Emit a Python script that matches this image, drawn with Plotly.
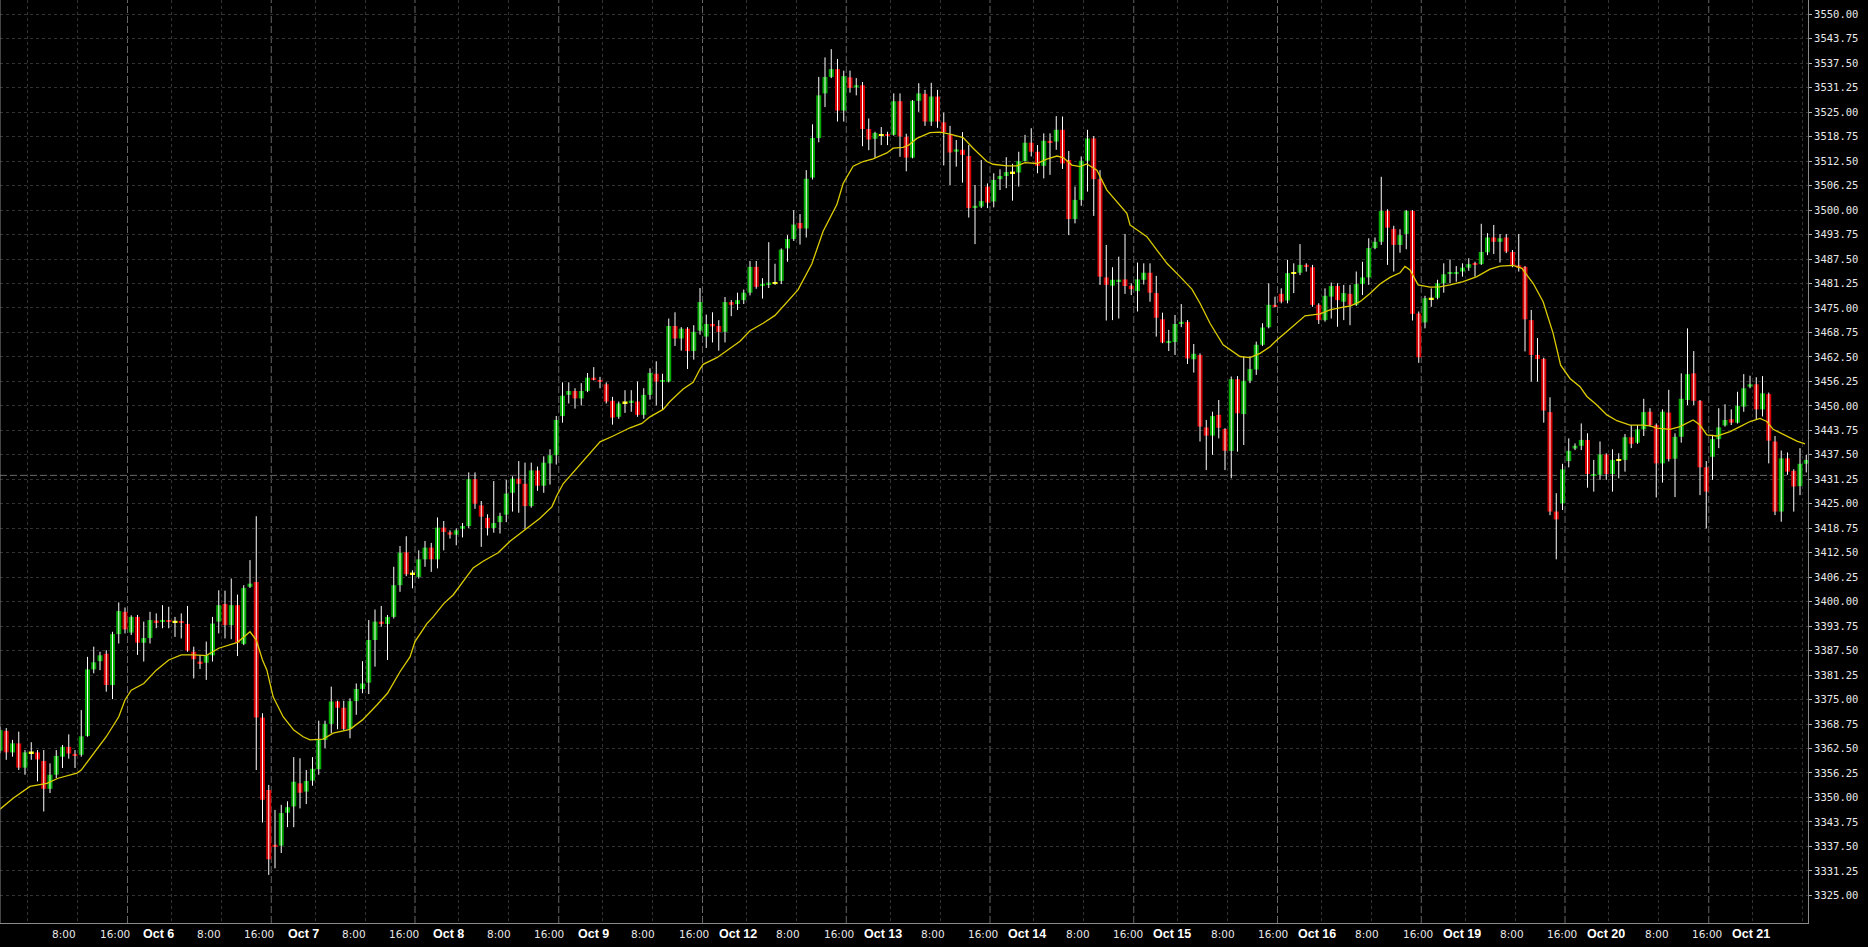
import plotly.graph_objects as go

# ---------------- data (hourly candles) ----------------
opens = [
3361.9, 3367.0, 3361.5, 3363.8, 3357.6, 3361.5, 3361.5, 3359.3, 3352.2, 3355.8,
3360.4, 3362.9, 3361.1, 3360.9, 3365.7, 3382.7, 3384.8, 3386.7, 3378.7, 3391.7,
3397.4, 3392.1, 3396.1, 3389.5, 3390.7, 3395.1, 3394.9, 3395.2, 3394.9, 3395.0,
3394.3, 3387.2, 3384.7, 3384.4, 3386.3, 3394.9, 3399.4, 3394.0, 3399.1, 3389.2,
3403.8, 3405.0, 3370.4, 3351.9, 3337.9, 3337.7, 3346.1, 3347.7, 3353.6, 3351.5,
3354.3, 3357.2, 3364.7, 3368.8, 3374.5, 3372.9, 3367.5, 3374.6, 3377.7, 3379.3,
3390.2, 3394.9, 3394.3, 3396.1, 3404.2, 3412.6, 3407.2, 3406.3, 3410.8, 3413.8,
3410.8, 3418.9, 3417.7, 3417.1, 3418.6, 3419.3, 3431.3, 3424.6, 3421.4, 3418.8,
3420.3, 3422.2, 3427.8, 3431.4, 3430.1, 3424.4, 3433.5, 3429.6, 3435.3, 3437.4,
3447.4, 3452.8, 3453.8, 3451.9, 3453.8, 3457.2, 3456.6, 3455.5, 3451.3, 3447.2,
3450.9, 3450.9, 3451.1, 3447.7, 3452.8, 3458.2, 3456.2, 3456.2, 3470.4, 3467.2,
3469.7, 3464.0, 3469.2, 3467.7, 3470.9, 3470.4, 3468.9, 3476.5, 3476.0, 3477.0,
3478.9, 3485.5, 3480.8, 3481.1, 3481.4, 3481.9, 3490.2, 3492.6, 3496.7, 3495.3,
3508.3, 3518.4, 3529.8, 3534.0, 3536.0, 3525.4, 3533.9, 3531.3, 3531.9, 3520.7,
3518.2, 3519.2, 3519.4, 3519.2, 3527.8, 3518.7, 3513.4, 3527.9, 3529.7, 3522.6,
3529.0, 3522.4, 3519.2, 3514.9, 3515.4, 3513.8, 3500.6, 3500.9, 3506.0, 3502.2,
3507.9, 3508.7, 3509.6, 3509.6, 3512.5, 3517.2, 3514.9, 3511.3, 3517.7, 3517.5,
3520.5, 3512.8, 3497.7, 3502.6, 3512.6, 3518.3, 3507.9, 3482.8, 3480.7, 3481.8,
3482.3, 3480.7, 3479.3, 3482.2, 3484.0, 3478.8, 3472.1, 3466.2, 3466.3, 3471.1,
3471.4, 3461.9, 3463.0, 3444.5, 3442.4, 3447.7, 3444.1, 3438.5, 3456.8, 3447.9,
3456.4, 3459.3, 3465.6, 3470.1, 3475.8, 3478.6, 3476.9, 3483.9, 3484.0, 3486.0,
3485.4, 3475.8, 3471.9, 3477.9, 3480.6, 3476.6, 3478.6, 3475.8, 3481.1, 3482.8,
3490.3, 3491.9, 3499.8, 3495.2, 3491.1, 3493.9, 3499.8, 3473.6, 3471.3, 3477.4,
3477.6, 3481.3, 3483.7, 3483.7, 3484.3, 3485.3, 3486.4, 3486.2, 3489.2, 3493.0,
3491.9, 3493.0, 3489.3, 3485.9, 3485.5, 3471.9, 3463.0, 3462.0, 3448.4, 3423.0,
3425.1, 3435.9, 3439.1, 3439.8, 3441.3, 3432.1, 3432.4, 3437.6, 3432.6, 3436.2,
3436.2, 3442.0, 3440.6, 3444.0, 3448.5, 3445.1, 3435.3, 3448.3, 3436.5, 3442.1,
3451.5, 3458.3, 3451.3, 3434.3, 3437.0, 3441.5, 3445.0, 3446.6, 3445.7, 3449.8,
3454.9, 3455.5, 3449.1, 3453.0, 3440.9, 3423.0, 3436.6, 3433.4, 3429.5, 3435.2,
]

highs = [
3368.1, 3367.7, 3364.7, 3366.8, 3362.1, 3364.1, 3362.1, 3362.1, 3358.7, 3362.1,
3363.4, 3366.1, 3362.1, 3372.3, 3385.9, 3388.5, 3387.2, 3387.6, 3392.3, 3399.8,
3398.5, 3396.5, 3396.6, 3394.9, 3397.4, 3397.0, 3399.1, 3398.7, 3396.1, 3397.0,
3398.9, 3388.5, 3386.4, 3389.8, 3396.1, 3402.9, 3402.8, 3405.9, 3401.8, 3404.2,
3410.6, 3421.8, 3371.5, 3353.2, 3346.8, 3348.1, 3349.0, 3360.3, 3360.0, 3357.0,
3360.3, 3369.6, 3369.6, 3378.3, 3374.7, 3374.7, 3375.3, 3379.1, 3384.8, 3395.3,
3398.0, 3398.9, 3396.6, 3408.9, 3414.2, 3416.7, 3408.0, 3413.1, 3415.5, 3415.0,
3421.5, 3420.6, 3418.2, 3418.7, 3420.1, 3433.0, 3433.0, 3425.7, 3422.3, 3430.8,
3422.7, 3431.1, 3432.0, 3435.9, 3435.5, 3435.5, 3434.5, 3437.1, 3438.9, 3447.4,
3456.0, 3456.0, 3454.5, 3455.8, 3458.4, 3459.9, 3457.4, 3456.0, 3452.3, 3451.1,
3454.0, 3454.0, 3456.2, 3454.5, 3459.6, 3461.4, 3458.2, 3472.3, 3473.9, 3470.1,
3470.1, 3470.6, 3480.1, 3473.3, 3473.9, 3471.9, 3477.8, 3477.0, 3478.9, 3479.7,
3487.0, 3487.0, 3482.6, 3491.8, 3486.3, 3490.2, 3493.6, 3500.0, 3499.0, 3510.2,
3521.9, 3534.0, 3539.0, 3541.1, 3538.6, 3535.6, 3535.6, 3533.7, 3532.7, 3523.4,
3520.0, 3521.2, 3520.0, 3529.8, 3529.8, 3519.5, 3528.1, 3532.4, 3530.7, 3532.5,
3530.7, 3524.9, 3521.5, 3517.9, 3519.9, 3516.6, 3506.4, 3512.8, 3506.8, 3509.4,
3510.4, 3513.5, 3511.8, 3514.9, 3519.2, 3520.9, 3516.6, 3519.6, 3519.6, 3524.0,
3523.9, 3515.1, 3506.0, 3513.7, 3520.5, 3518.9, 3510.2, 3491.1, 3485.4, 3488.1,
3493.9, 3481.3, 3486.6, 3486.4, 3486.4, 3483.2, 3473.8, 3469.4, 3473.2, 3476.0,
3471.9, 3465.8, 3463.4, 3446.4, 3448.5, 3451.5, 3444.3, 3457.5, 3457.6, 3462.6,
3462.6, 3466.4, 3471.1, 3481.3, 3477.9, 3480.0, 3487.3, 3486.4, 3491.3, 3486.4,
3486.0, 3476.2, 3480.0, 3481.5, 3481.3, 3480.9, 3480.9, 3484.3, 3486.8, 3492.8,
3493.0, 3508.5, 3500.2, 3496.0, 3495.1, 3500.0, 3500.0, 3474.1, 3478.1, 3480.0,
3482.2, 3486.4, 3487.4, 3485.7, 3486.4, 3487.7, 3486.8, 3496.5, 3494.1, 3496.2,
3493.9, 3493.9, 3489.8, 3493.9, 3485.7, 3474.5, 3467.3, 3462.3, 3452.2, 3427.7,
3435.2, 3441.7, 3440.4, 3445.5, 3443.0, 3436.2, 3440.9, 3437.9, 3438.9, 3437.9,
3442.8, 3445.1, 3445.1, 3451.8, 3449.4, 3445.5, 3449.1, 3454.1, 3443.0, 3458.3,
3469.8, 3464.0, 3451.5, 3435.9, 3442.6, 3449.4, 3450.4, 3449.1, 3453.6, 3458.1,
3457.7, 3457.3, 3457.6, 3453.4, 3442.3, 3438.6, 3438.1, 3433.8, 3439.2, 3437.5,
]

lows = [
3361.3, 3359.6, 3360.4, 3357.0, 3355.8, 3359.6, 3354.1, 3346.4, 3351.1, 3354.9,
3357.5, 3359.9, 3357.5, 3360.4, 3365.5, 3381.7, 3382.5, 3377.0, 3375.1, 3389.3,
3391.9, 3391.5, 3386.4, 3384.7, 3389.3, 3393.2, 3393.2, 3393.2, 3391.0, 3390.6,
3387.2, 3380.4, 3382.8, 3380.0, 3384.7, 3391.9, 3390.6, 3390.4, 3386.1, 3388.9,
3403.5, 3357.0, 3343.6, 3330.2, 3331.9, 3335.8, 3342.4, 3342.4, 3347.2, 3348.3,
3353.0, 3355.8, 3362.6, 3366.4, 3367.4, 3367.2, 3365.1, 3371.1, 3376.6, 3376.4,
3383.4, 3393.6, 3385.1, 3395.7, 3402.5, 3406.5, 3403.4, 3405.9, 3408.9, 3407.6,
3408.5, 3413.1, 3416.1, 3414.4, 3416.4, 3418.8, 3423.7, 3414.0, 3416.9, 3417.6,
3417.4, 3420.3, 3423.0, 3422.7, 3418.5, 3424.0, 3428.3, 3427.8, 3429.9, 3435.0,
3445.7, 3450.6, 3449.3, 3450.1, 3453.5, 3456.5, 3454.5, 3450.6, 3445.2, 3446.7,
3448.2, 3448.5, 3447.2, 3446.7, 3451.6, 3450.1, 3449.1, 3456.0, 3465.3, 3464.1,
3459.4, 3461.8, 3468.2, 3464.8, 3466.2, 3464.1, 3466.2, 3472.9, 3474.5, 3476.0,
3478.2, 3479.9, 3477.4, 3480.1, 3480.9, 3481.1, 3486.8, 3492.1, 3491.2, 3493.0,
3507.8, 3517.3, 3526.3, 3533.7, 3522.6, 3522.6, 3530.0, 3529.3, 3516.3, 3515.3,
3513.3, 3516.6, 3516.6, 3519.0, 3513.6, 3509.9, 3513.2, 3525.1, 3521.5, 3521.5,
3521.0, 3511.4, 3506.4, 3511.1, 3507.0, 3498.1, 3491.3, 3500.5, 3500.5, 3500.7,
3505.1, 3505.6, 3502.4, 3506.0, 3512.4, 3513.7, 3509.4, 3508.1, 3509.0, 3515.4,
3510.5, 3493.6, 3496.6, 3501.1, 3504.7, 3498.5, 3480.9, 3471.8, 3471.9, 3472.3,
3478.6, 3478.3, 3474.1, 3481.0, 3476.6, 3467.7, 3466.0, 3464.0, 3463.0, 3470.1,
3460.7, 3458.5, 3440.9, 3433.6, 3437.5, 3441.7, 3433.6, 3431.5, 3438.3, 3440.0,
3455.8, 3457.9, 3465.3, 3469.8, 3475.2, 3476.2, 3476.2, 3478.8, 3483.4, 3484.3,
3475.3, 3470.9, 3471.5, 3472.3, 3470.2, 3471.9, 3470.6, 3475.5, 3478.3, 3480.9,
3490.0, 3491.1, 3486.0, 3484.3, 3489.1, 3490.0, 3471.8, 3461.0, 3469.8, 3475.3,
3477.2, 3478.9, 3481.3, 3481.7, 3483.0, 3484.5, 3483.0, 3486.0, 3488.5, 3488.8,
3486.6, 3489.0, 3485.4, 3484.3, 3463.9, 3456.2, 3456.2, 3445.7, 3422.1, 3410.8,
3423.4, 3434.3, 3438.7, 3438.7, 3429.1, 3428.1, 3431.1, 3431.1, 3428.1, 3431.5,
3433.2, 3439.2, 3440.3, 3442.3, 3444.7, 3426.6, 3430.4, 3435.8, 3426.7, 3440.6,
3450.2, 3450.2, 3427.2, 3418.7, 3431.1, 3439.2, 3444.7, 3445.1, 3445.5, 3448.5,
3454.5, 3446.4, 3447.3, 3435.3, 3422.1, 3420.4, 3432.4, 3423.0, 3427.2, 3433.0,
]

closes = [
3367.2, 3361.5, 3363.8, 3357.6, 3361.5, 3361.5, 3359.7, 3352.2, 3355.8, 3360.6,
3362.9, 3361.2, 3360.7, 3365.6, 3382.7, 3384.5, 3386.3, 3378.7, 3391.7, 3397.6,
3392.9, 3396.1, 3389.5, 3390.7, 3395.3, 3394.8, 3395.3, 3394.9, 3394.9, 3394.6,
3387.5, 3385.3, 3384.2, 3386.3, 3394.4, 3399.1, 3394.0, 3399.1, 3389.5, 3403.5,
3404.6, 3370.4, 3349.4, 3334.2, 3337.5, 3346.0, 3347.5, 3354.0, 3351.2, 3354.2,
3357.3, 3364.7, 3368.8, 3374.5, 3372.9, 3367.5, 3374.6, 3377.7, 3379.1, 3390.2,
3394.9, 3394.4, 3396.1, 3404.2, 3412.5, 3407.0, 3407.2, 3410.8, 3413.8, 3410.8,
3418.9, 3417.8, 3417.1, 3418.2, 3419.3, 3431.3, 3425.0, 3421.7, 3418.8, 3420.1,
3421.9, 3427.6, 3431.4, 3430.1, 3424.4, 3433.5, 3429.6, 3435.5, 3437.4, 3446.4,
3452.6, 3453.8, 3451.9, 3453.8, 3457.2, 3456.7, 3456.1, 3451.1, 3447.0, 3450.6,
3450.9, 3451.3, 3447.7, 3452.8, 3458.4, 3456.2, 3456.5, 3470.4, 3467.2, 3469.7,
3464.0, 3468.9, 3476.5, 3470.9, 3470.3, 3468.9, 3476.5, 3475.8, 3477.0, 3478.9,
3485.5, 3480.4, 3481.1, 3481.4, 3481.4, 3489.9, 3492.6, 3496.3, 3495.3, 3508.0,
3518.4, 3529.3, 3534.0, 3536.0, 3525.4, 3534.2, 3531.2, 3531.9, 3520.7, 3518.0,
3519.7, 3519.2, 3519.0, 3527.8, 3518.8, 3513.4, 3527.9, 3529.8, 3522.6, 3529.0,
3522.6, 3519.9, 3514.7, 3515.5, 3514.1, 3500.5, 3501.1, 3502.3, 3501.9, 3507.7,
3508.7, 3509.7, 3509.6, 3512.5, 3517.2, 3514.9, 3511.3, 3517.7, 3517.2, 3520.5,
3511.9, 3497.7, 3502.6, 3512.6, 3518.3, 3507.9, 3483.0, 3480.9, 3482.2, 3482.2,
3480.6, 3479.8, 3482.3, 3484.0, 3478.9, 3472.5, 3466.2, 3466.5, 3470.9, 3471.4,
3462.1, 3463.3, 3444.7, 3442.4, 3447.4, 3444.4, 3438.5, 3456.8, 3448.1, 3456.4,
3459.4, 3465.6, 3470.0, 3475.8, 3475.3, 3476.6, 3483.9, 3483.9, 3486.0, 3485.6,
3475.8, 3471.9, 3478.1, 3480.6, 3477.0, 3478.8, 3475.8, 3481.1, 3482.8, 3490.3,
3491.9, 3499.8, 3495.5, 3491.1, 3493.6, 3499.8, 3473.5, 3462.4, 3477.5, 3477.4,
3481.3, 3483.6, 3484.1, 3484.1, 3485.3, 3486.2, 3486.0, 3489.3, 3493.0, 3491.9,
3492.8, 3489.4, 3486.0, 3485.4, 3472.1, 3463.0, 3462.0, 3448.8, 3423.0, 3421.0,
3433.8, 3438.5, 3439.8, 3441.3, 3432.6, 3432.6, 3437.6, 3432.6, 3436.2, 3436.2,
3442.0, 3440.3, 3444.0, 3448.4, 3445.1, 3435.3, 3448.5, 3436.4, 3442.1, 3451.8,
3458.1, 3451.3, 3434.3, 3428.1, 3441.5, 3444.5, 3446.4, 3445.7, 3450.0, 3454.5,
3455.5, 3449.1, 3453.2, 3441.1, 3423.0, 3436.6, 3433.2, 3429.4, 3435.2, 3436.2,
]

# moving average line (bar position, value)
ma_bar = [
0, 2.1, 4.8, 7.5, 9.3, 12.3, 13, 15, 17, 19, 20, 21, 23, 25, 27, 29, 31, 33, 35, 38,
40, 41, 42, 42.7, 43.7, 45.3, 47, 48.5, 49.6, 51.7, 53.3, 56, 58, 60.3, 62, 64, 65.6,
66.4, 68.3, 69.3, 71, 72.5, 73.9, 75.7, 77.3, 79.7, 81.6, 83.2, 84.8, 86.4, 88.3, 89.1,
90.1, 92.3, 94.4, 96, 98.1, 100.8, 102.7, 104, 106.1, 107.2, 109.3, 110.9, 112, 112.5,
114.7, 116.3, 118.4, 120, 122.1, 124, 125.3, 127.7, 129.9, 131.7, 133.9, 134.9, 136.5,
138.1, 139.7, 141.9, 142.9, 144.5, 145.4, 146.7, 148.8, 150.4, 152, 154.1, 155.7,
157.9, 158.9, 161.1, 162.7, 164, 165.9, 167.5, 169.1, 170.1, 171.5, 172.8, 173.9,
175.5, 177.1, 178.7, 180.3, 180.8, 181.9, 183.5, 185.1, 186.7, 188.8, 190.7, 192,
193.6, 195.7, 197.3, 198.4, 200, 201.6, 203.2, 204.3, 205.9, 207.5, 208.8, 211.2,
212.8, 214.9, 216, 217.6, 219.2, 220.8, 222.4, 224, 224.8, 225.6, 226.9, 228.8, 230.4,
232, 234.1, 236.3, 238.4, 240, 242.1, 243.5, 245.3, 246.9, 248.5, 249.7, 251.2, 252.8,
253.9, 255.5, 257.1, 258.7, 260.8, 262.9, 264, 265.1, 267.2, 268.8, 270.9, 272, 273.1,
274.7, 276.8, 278.4, 280, 281.6, 282.7, 283.7, 285.3, 287.5, 288.8,
]
ma_value = [
3347.0, 3349.8, 3352.8, 3353.6, 3354.9, 3356.2, 3357.0, 3361.3, 3365.5, 3370.6, 3374.9,
3377.4, 3379.1, 3382.5, 3385.1, 3386.4, 3386.4, 3386.2, 3388.1, 3389.6,
3392.3, 3390.2, 3385.1, 3382.5, 3375.7, 3370.6, 3367.2, 3365.5, 3364.7, 3364.9, 3366.4,
3367.4, 3369.8, 3373.6, 3376.6, 3382.1, 3385.9,
3389.8, 3394.4, 3396.1, 3399.5, 3401.7, 3404.7, 3408.6, 3410.3, 3412.5, 3415.4, 3417.4,
3419.3, 3421.3, 3424.2, 3427.1,
3430.1, 3434.0, 3437.9, 3440.8, 3442.3, 3444.4, 3445.5, 3447.2, 3449.1, 3451.1, 3454.3,
3456.0, 3459.4, 3460.6,
3462.3, 3464.1, 3466.5, 3469.2, 3471.1, 3473.1, 3475.5, 3479.7, 3486.3, 3494.6, 3501.4,
3506.8, 3511.2,
3512.4, 3513.1, 3514.6, 3515.8, 3516.0, 3516.6, 3518.3, 3519.8, 3519.9, 3519.4, 3518.5,
3515.8,
3512.4, 3511.7, 3511.3, 3511.3, 3512.1, 3511.9, 3513.0, 3513.8, 3513.4, 3511.5, 3511.1,
3511.8,
3510.2, 3505.1, 3502.2, 3499.2, 3496.2, 3494.9, 3493.2, 3489.8, 3486.4, 3483.0, 3479.8,
3476.2,
3471.1, 3465.6, 3463.9, 3462.6, 3462.3, 3463.4, 3465.1, 3466.8, 3469.0, 3471.1, 3473.0,
3473.5,
3474.5, 3475.2, 3475.5, 3476.6, 3478.7, 3481.1, 3482.8, 3484.0, 3485.6, 3484.7, 3480.9,
3480.3, 3480.4,
3480.9, 3481.7, 3483.0, 3484.9, 3485.7, 3485.9, 3485.1, 3481.3, 3476.6, 3468.5, 3460.4,
3457.0, 3454.9,
3452.4, 3450.2, 3447.7, 3446.2, 3445.1, 3445.1, 3444.9, 3444.3, 3444.0, 3444.7, 3446.4,
3445.1, 3442.6,
3442.3, 3443.4, 3444.7, 3446.0, 3446.8, 3446.0, 3444.0, 3442.8, 3441.0, 3440.3,
]

day_labels = ["Oct 6", "Oct 7", "Oct 8", "Oct 9", "Oct 12", "Oct 13",
              "Oct 14", "Oct 15", "Oct 16", "Oct 19", "Oct 20", "Oct 21"]
hour_labels = ["8:00", "16:00"]
bid_price = 3432.25
price_tick_first, price_tick_last, price_tick_step = 3325.0, 3550.0, 6.25

# ---------------- layout constants ----------------
W, H = 1868, 947
PLOT_W, PLOT_H = 1808, 923
BAR_PX = 6.25
Y_TOP, Y_BOTTOM = 3553.65, 3317.93
BARS_PER_DAY = 23
GRID_OFF = 0.4

BG = "#000000"
GRID = "#333333"
SEP = "#666666"
FRAME = "#8a8a8a"
TXT = "#e8e8e8"
UP = "#00a800"
DOWN = "#d80000"
DOJI = "#ffff00"
MA_COL = "#dccc00"

n = len(opens)
xs = list(range(n))

# wicks
wx, wy = [], []
for i in xs:
    hi = max(highs[i], opens[i], closes[i])
    lo = min(lows[i], opens[i], closes[i])
    wx += [i, i, None]
    wy += [lo, hi, None]

# bodies
MIN_BODY = 0.45
groups = {"up": ([], [], []), "down": ([], [], []), "doji": ([], [], [])}
for i in xs:
    o, c = opens[i], closes[i]
    lo, hi = min(o, c), max(o, c)
    if hi - lo < MIN_BODY:
        mid = (lo + hi) / 2
        lo, hi = mid - MIN_BODY / 2, mid + MIN_BODY / 2
    key = "up" if c > o else ("down" if c < o else "doji")
    groups[key][0].append(i)
    groups[key][1].append(lo)
    groups[key][2].append(hi - lo)

fig = go.Figure()
fig.add_trace(go.Scatter(x=wx, y=wy, mode="lines",
                         line=dict(color="#ffffff", width=1),
                         hoverinfo="skip", showlegend=False))
for key, col in (("up", UP), ("down", DOWN), ("doji", DOJI)):
    gx, gb, gh = groups[key]
    fig.add_trace(go.Bar(x=gx, y=gh, base=gb, width=0.8,
                         marker=dict(color=col, line=dict(width=0)),
                         hoverinfo="skip", showlegend=False))
fig.add_trace(go.Scatter(x=ma_bar, y=ma_value, mode="lines",
                         line=dict(color=MA_COL, width=1.3),
                         hoverinfo="skip", showlegend=False))

# grid / label positions (bars of 0:00, 8:00, 16:00)
ndays = len(day_labels)
sep_bars = [20 + BARS_PER_DAY * d for d in range(ndays)]
reg_bars = [4, 12] + [b for d in range(ndays)
                      for b in (27 + BARS_PER_DAY * d, 35 + BARS_PER_DAY * d)]

shapes = []
for b in sep_bars:
    shapes.append(dict(type="line", xref="x", yref="paper",
                       x0=b + GRID_OFF, x1=b + GRID_OFF, y0=0, y1=1,
                       line=dict(color=SEP, width=1, dash="7px,3px"), layer="below"))
shapes.append(dict(type="line", xref="paper", yref="y", x0=0, x1=1,
                   y0=bid_price, y1=bid_price,
                   line=dict(color="#6a6a6a", width=1, dash="7px,3px"), layer="below"))
shapes.append(dict(type="line", xref="paper", yref="paper", x0=0, x1=0, y0=0, y1=1,
                   line=dict(color=FRAME, width=1)))

annotations = []
for d in range(ndays):
    items = [(12 + BARS_PER_DAY * d, hour_labels[0], False),
             (20 + BARS_PER_DAY * d, hour_labels[1], False),
             (27 + BARS_PER_DAY * d, day_labels[d], True)]
    for b, txt, bold in items:
        xc = b + GRID_OFF - 2.2 + 2.0 * b / 280.0
        if bold:
            font = dict(family="Liberation Sans", size=12.5, color="#ffffff")
        else:
            font = dict(family="DejaVu Sans", size=10.5, color=TXT)
        annotations.append(dict(
            x=xc, xref="x", y=0, yref="paper", yshift=-11,
            text=f"<b>{txt}</b>" if bold else txt, showarrow=False,
            xanchor="center", yanchor="middle", font=font))

yticks = []
v = price_tick_first
while v <= price_tick_last + 1e-9:
    yticks.append(round(v, 2))
    v += price_tick_step

fig.update_layout(
    width=W, height=H,
    margin=dict(l=0, r=W - PLOT_W, t=0, b=H - PLOT_H, pad=0),
    paper_bgcolor=BG, plot_bgcolor=BG,
    barmode="overlay", showlegend=False,
    shapes=shapes, annotations=annotations,
    xaxis=dict(range=[0, PLOT_W / BAR_PX], tickvals=[b + GRID_OFF for b in reg_bars],
               showticklabels=False, ticks="", showgrid=True, gridcolor=GRID,
               griddash="3px,3px", gridwidth=1, zeroline=False,
               showline=True, linecolor=FRAME, linewidth=1, automargin=False),
    yaxis=dict(range=[Y_BOTTOM, Y_TOP], side="right", tickvals=yticks,
               ticktext=[f"{t:.2f}" for t in yticks],
               ticks="outside", ticklen=3, tickcolor="#b0b0b0", tickwidth=1,
               tickfont=dict(family="DejaVu Sans Mono", size=10.5, color=TXT),
               showgrid=True, gridcolor=GRID, griddash="3px,3px", gridwidth=1,
               zeroline=False, showline=True, linecolor=FRAME, linewidth=1,
               automargin=False),
)

fig.write_html("out.html", config={"displayModeBar": False},
               post_script="document.body.style.margin='0px';document.body.style.background='#000';")
